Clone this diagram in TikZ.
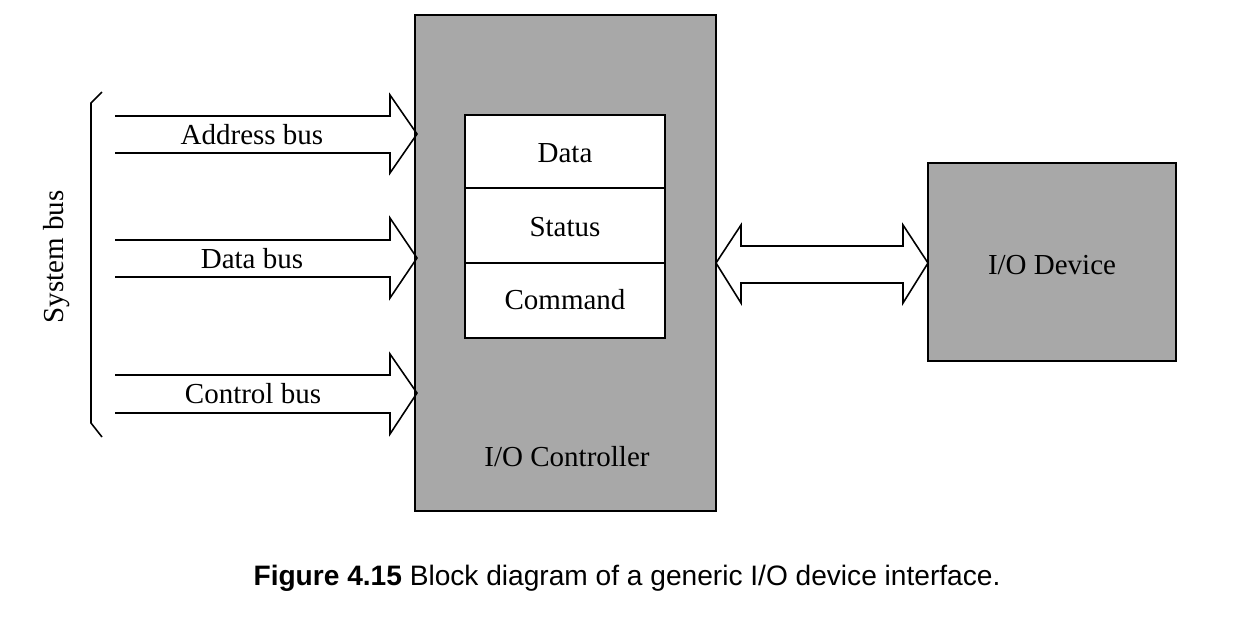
\documentclass[tikz,border=0pt]{standalone}
\usepackage{fontspec}
\setmainfont{Liberation Serif}
\newfontfamily\capfont{Liberation Sans}
\definecolor{ctrlgray}{gray}{0.66}
\begin{document}
\begin{tikzpicture}[x=0.02cm,y=-0.02cm,
  lbl/.style={font=\fontsize{16.5}{20}\selectfont, inner sep=0pt},
  box/.style={draw, line width=1pt},
  busarrow/.style={draw, line width=0.9pt, line join=miter}]
\useasboundingbox (0,0) rectangle (1240,616);
% I/O controller
\draw[box, fill=ctrlgray] (415,15) rectangle (716,511);
\coordinate (ctrlW) at (415,263);
\coordinate (ctrlE) at (716,263);
\node[lbl] (ctrl) at (567,457) {I/O Controller};
% registers
\draw[box, fill=white] (465,115) rectangle (665,338);
\draw[line width=1pt] (465,188) -- (665,188);
\draw[line width=1pt] (465,263) -- (665,263);
\node[lbl] (data) at (565,153) {Data};
\node[lbl] (status) at (565,227) {Status};
\node[lbl] (command) at (565,300) {Command};
% I/O device
\draw[box, fill=ctrlgray] (928,163) rectangle (1176,361);
\coordinate (devW) at (928,263);
\node[lbl] (dev) at (1052,265) {I/O Device};
% bus arrows
\draw[busarrow] (115,116) -- (390,116) -- (390,95) -- (417,134) -- (390,173) -- (390,153) -- (115,153);
\draw[busarrow] (115,240) -- (390,240) -- (390,218) -- (417,258) -- (390,298) -- (390,277) -- (115,277);
\draw[busarrow] (115,375) -- (390,375) -- (390,354) -- (417,393) -- (390,434) -- (390,413) -- (115,413);
\node[lbl] (addr) at (252,135) {Address bus};
\node[lbl] (databus) at (252,259) {Data bus};
\node[lbl] (ctrlbus) at (253,394) {Control bus};
% double arrow
\draw[busarrow, fill=white] (ctrlE) -- (741,225) -- (741,246) -- (903,246) -- (903,225) -- (devW) -- (903,303) -- (903,283) -- (741,283) -- (741,303) -- cycle;
% brace
\draw[line width=0.9pt] (102,92) -- (91,103) -- (91,423) -- (102,437);
\node[lbl, rotate=90] (sysbus) at (57,257) {System bus};
% caption
\node[inner sep=0pt] (cap) at (627,578) {\capfont\fontsize{16}{19}\selectfont\textbf{Figure 4.15} Block diagram of a generic I/O device interface.};
\end{tikzpicture}
\end{document}
